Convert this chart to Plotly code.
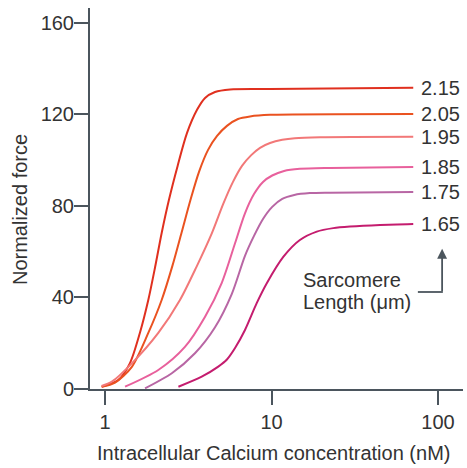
import plotly.graph_objects as go
import math

# Sarcomere length labels
lengths = ["2.15", "2.05", "1.95", "1.85", "1.75", "1.65"]
colors = ["#e0301f", "#ea5220", "#f27878", "#e8609c", "#b866a4", "#c41c6e"]

# Intracellular calcium (nM) and normalized force for each curve
ca_215 = [0.955, 1.20, 1.41, 1.62, 1.82, 2.00, 2.19, 2.42, 2.73, 3.11, 3.57, 3.99, 4.58, 5.64, 9.8, 71]
f_215 = [1.0, 3.9, 11.2, 24.5, 38.9, 53.3, 68.2, 82.6, 97.5, 111.9, 122.0, 127.2, 129.8, 130.9, 131.1, 131.6]

ca_205 = [0.955, 1.15, 1.45, 1.82, 2.19, 2.54, 2.88, 3.26, 3.67, 4.16, 4.71, 5.40, 6.29, 7.43, 9.8, 71]
f_205 = [1.0, 2.8, 9.7, 24.5, 38.9, 53.8, 68.2, 82.6, 94.9, 104.5, 110.6, 115.0, 118.0, 119.1, 119.8, 120.2]

ca_195 = [0.955, 1.10, 1.45, 2.09, 2.82, 3.55, 4.38, 5.13, 5.87, 6.65, 7.53, 8.53, 9.8, 11.6, 13.8, 19.6, 71]
f_195 = [1.3, 3.2, 11.2, 24.5, 38.9, 53.5, 68.0, 80.9, 90.5, 97.5, 102.1, 105.4, 107.5, 108.9, 109.6, 110.0, 110.2]

ca_185 = [1.32, 2.09, 3.02, 3.99, 5.02, 6.04, 6.93, 7.85, 8.89, 10.1, 11.9, 14.8, 22.5, 71]
f_185 = [1.0, 8.3, 18.4, 31.6, 46.3, 63.7, 76.8, 85.2, 90.5, 93.3, 95.3, 96.2, 96.6, 97.0]

ca_175 = [1.74, 2.52, 3.47, 4.58, 5.77, 6.93, 7.85, 8.89, 10.1, 11.6, 13.7, 17.0, 22.5, 71]
f_175 = [0.3, 6.9, 15.6, 27.0, 41.5, 58.2, 66.9, 74.3, 79.6, 83.1, 84.8, 85.6, 85.8, 86.1]

ca_165 = [2.76, 3.81, 4.79, 5.40, 6.04, 6.93, 8.15, 9.37, 11.8, 14.8, 18.7, 23.5, 29.6, 44.9, 71]
f_165 = [1.0, 5.4, 9.8, 12.9, 17.9, 25.8, 37.5, 46.2, 57.8, 65.1, 68.8, 70.3, 71.0, 71.7, 72.1]

xs = [ca_215, ca_205, ca_195, ca_185, ca_175, ca_165]
ys = [f_215, f_205, f_195, f_185, f_175, f_165]

y_ticks = [0, 40, 80, 120, 160]
x_ticks = [1, 10, 100]

FONT = "Liberation Sans"
TXT = "#333333"
AX = "#4b555d"

fig = go.Figure()
for x, y, c in zip(xs, ys, colors):
    fig.add_trace(go.Scatter(x=x, y=y, mode="lines",
                             line=dict(color=c, width=2, shape="spline", smoothing=0.8),
                             showlegend=False, hoverinfo="skip"))

annotations = []
for x, y, lab in zip(xs, ys, lengths):
    annotations.append(dict(x=math.log10(x[-1]), y=y[-1], xref="x", yref="y",
                            text=lab, showarrow=False, xanchor="left", yanchor="middle",
                            xshift=6, font=dict(family=FONT, size=20, color=TXT)))

# Axis titles
annotations.append(dict(x=0.5, y=-0.168, xref="paper", yref="paper",
                        text="Intracellular Calcium concentration (nM)", showarrow=False,
                        xanchor="center", yanchor="middle", xshift=-3,
                        font=dict(family=FONT, size=20, color=TXT)))
annotations.append(dict(x=-0.188, y=0.472, xref="paper", yref="paper",
                        text="Normalized force", showarrow=False, textangle=-90,
                        xanchor="center", yanchor="middle",
                        font=dict(family=FONT, size=20, color=TXT)))
# Sarcomere length note
annotations.append(dict(x=0.566, y=(389 - 280) / 381, xref="paper", yref="paper",
                        text="Sarcomere", showarrow=False, align="left",
                        xanchor="left", yanchor="middle",
                        font=dict(family=FONT, size=20, color=TXT)))
annotations.append(dict(x=0.566, y=(389 - 302) / 381, xref="paper", yref="paper",
                        text="Length (\u03bcm)", showarrow=False, align="left",
                        xanchor="left", yanchor="middle",
                        font=dict(family=FONT, size=20, color=TXT)))
annotations.append(dict(x=0.944, y=0.368, xref="paper", yref="paper", text="",
                        showarrow=True, ax=0, ay=44, arrowhead=2, arrowsize=1.1,
                        arrowwidth=1.8, arrowcolor=AX))

fig.update_layout(
    width=467, height=468,
    margin=dict(l=90, r=4, t=8, b=79),
    paper_bgcolor="white", plot_bgcolor="white",
    annotations=annotations,
    shapes=[dict(type="line", xref="paper", yref="paper",
                 x0=0.879, x1=0.946, y0=0.2546, y1=0.2546,
                 line=dict(color=AX, width=1.8))],
    xaxis=dict(type="log", range=[-0.09, 2.15], tickvals=x_ticks,
               ticktext=[str(v) for v in x_ticks],
               showgrid=False, zeroline=False, showline=True, linecolor=AX, linewidth=2,
               ticks="outside", ticklen=14, tickwidth=2, tickcolor=AX,
               tickfont=dict(family=FONT, size=20, color=TXT)),
    yaxis=dict(range=[0, 166.5], tickvals=y_ticks,
               showgrid=False, zeroline=False, showline=True, linecolor=AX, linewidth=2,
               ticks="outside", ticklen=14, tickwidth=2, tickcolor=AX,
               ticklabelstandoff=-4,
               tickfont=dict(family=FONT, size=20, color=TXT)),
)

fig.write_html("out.html")
